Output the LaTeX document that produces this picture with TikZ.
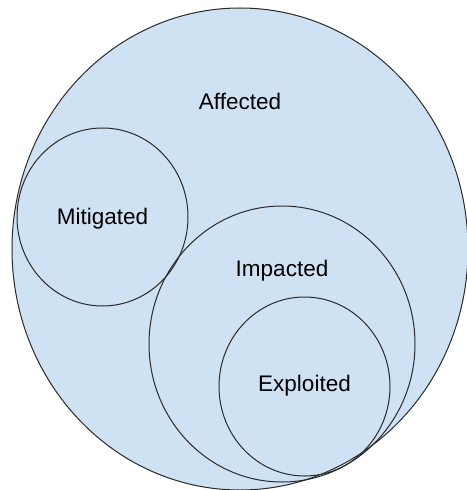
\documentclass[tikz,border=0pt]{standalone}
\usepackage{fontspec}
\setmainfont{Liberation Sans}
\definecolor{setfill}{HTML}{CFE2F3}
\definecolor{setline}{HTML}{2A2A2A}
\begin{document}
\begin{tikzpicture}[x=1bp,y=-1bp,
  setline/.style={draw=setline,line width=1bp},
  lbl/.style={font=\fontsize{22.6}{27}\selectfont,text=black,inner sep=0pt}]
\useasboundingbox (0,0) rectangle (467,490);
\clip (0,0) rectangle (467,490);
\fill[setfill] (240,249) ellipse [x radius=228, y radius=241];
\draw[setline] (240,249) ellipse [x radius=228, y radius=241];
\draw[setline] (102.5,217) ellipse [x radius=85.5, y radius=89];
\draw[setline] (282,344) ellipse [x radius=133, y radius=138];
\draw[setline] (304.5,386.5) ellipse [x radius=85.5, y radius=89.5];
\node[lbl] (affected) at (240,101) {Affected};
\node[lbl] (mitigated) at (102.5,219) {Mitigated};
\node[lbl] (impacted) at (282,271) {Impacted};
\node[lbl] (exploited) at (304.5,386) {Exploited};
\end{tikzpicture}
\end{document}
